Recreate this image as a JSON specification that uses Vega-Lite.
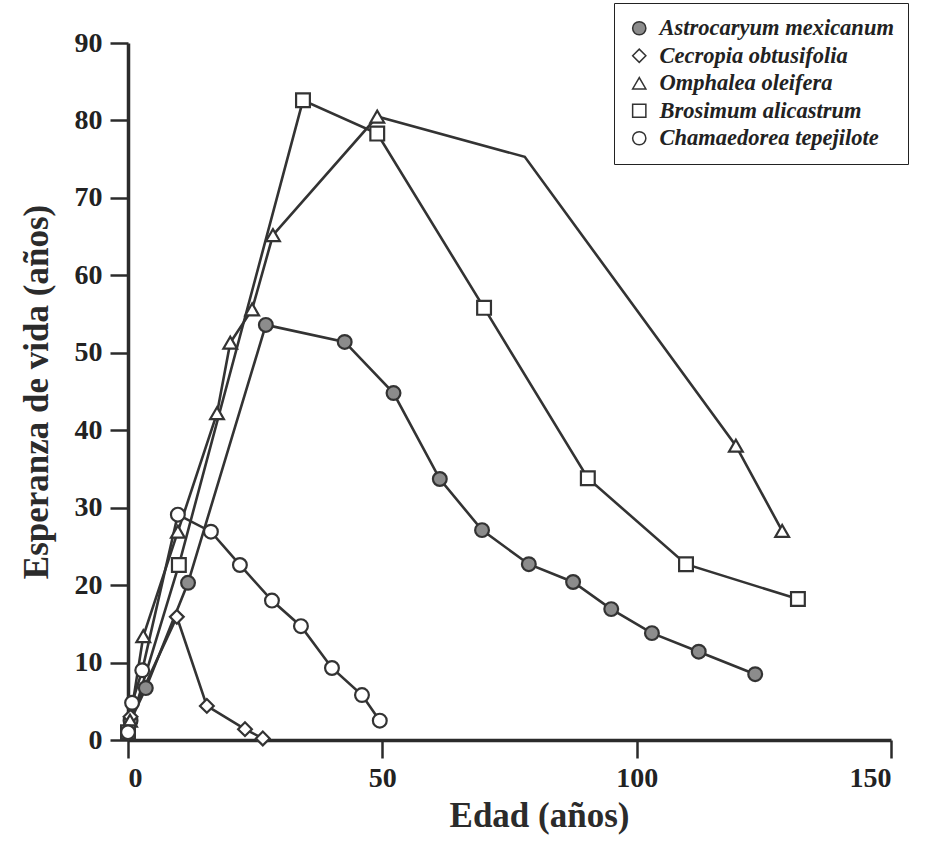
{
  "$schema": "https://vega.github.io/schema/vega-lite/v6.json",
  "autosize": "none",
  "width": 763,
  "height": 697,
  "padding": {"left": 128, "top": 43, "right": 45, "bottom": 102},
  "background": "white",
  "config": {
    "view": {"stroke": null},
    "axis": {
      "grid": false,
      "domainColor": "#2b2b2b",
      "domainWidth": 3.5,
      "tickColor": "#2b2b2b",
      "tickWidth": 2.5,
      "tickSize": 18,
      "labelFont": "Liberation Serif",
      "labelFontWeight": "bold",
      "labelFontSize": 28,
      "labelColor": "#222",
      "titleFont": "Liberation Serif",
      "titleFontWeight": "bold",
      "titleFontSize": 35,
      "titleColor": "#2b2b2b"
    },
    "legend": {
      "labelFont": "Liberation Serif",
      "labelFontStyle": "italic",
      "labelFontWeight": "bold",
      "labelFontSize": 22.5,
      "labelColor": "#222"
    }
  },
  "data": {
    "values": [
      {"especie": "Astrocaryum mexicanum", "edad": 0.5, "esperanza": 2.5, "marcador": "si"},
      {"especie": "Astrocaryum mexicanum", "edad": 3.5, "esperanza": 6.7, "marcador": "si"},
      {"especie": "Astrocaryum mexicanum", "edad": 11.8, "esperanza": 20.3, "marcador": "si"},
      {"especie": "Astrocaryum mexicanum", "edad": 27.1, "esperanza": 53.6, "marcador": "si"},
      {"especie": "Astrocaryum mexicanum", "edad": 42.6, "esperanza": 51.4, "marcador": "si"},
      {"especie": "Astrocaryum mexicanum", "edad": 52.2, "esperanza": 44.8, "marcador": "si"},
      {"especie": "Astrocaryum mexicanum", "edad": 61.3, "esperanza": 33.7, "marcador": "si"},
      {"especie": "Astrocaryum mexicanum", "edad": 69.6, "esperanza": 27.1, "marcador": "si"},
      {"especie": "Astrocaryum mexicanum", "edad": 78.8, "esperanza": 22.7, "marcador": "si"},
      {"especie": "Astrocaryum mexicanum", "edad": 87.5, "esperanza": 20.4, "marcador": "si"},
      {"especie": "Astrocaryum mexicanum", "edad": 95.0, "esperanza": 16.9, "marcador": "si"},
      {"especie": "Astrocaryum mexicanum", "edad": 103.0, "esperanza": 13.8, "marcador": "si"},
      {"especie": "Astrocaryum mexicanum", "edad": 112.2, "esperanza": 11.4, "marcador": "si"},
      {"especie": "Astrocaryum mexicanum", "edad": 123.3, "esperanza": 8.5, "marcador": "si"},
      {"especie": "Cecropia obtusifolia", "edad": 0.5, "esperanza": 3.0, "marcador": "si"},
      {"especie": "Cecropia obtusifolia", "edad": 9.6, "esperanza": 15.9, "marcador": "si"},
      {"especie": "Cecropia obtusifolia", "edad": 15.5, "esperanza": 4.4, "marcador": "si"},
      {"especie": "Cecropia obtusifolia", "edad": 23.0, "esperanza": 1.4, "marcador": "si"},
      {"especie": "Cecropia obtusifolia", "edad": 26.5, "esperanza": 0.2, "marcador": "si"},
      {"especie": "Omphalea oleifera", "edad": 0.4, "esperanza": 2.5, "marcador": "si"},
      {"especie": "Omphalea oleifera", "edad": 3.0, "esperanza": 13.4, "marcador": "si"},
      {"especie": "Omphalea oleifera", "edad": 9.8, "esperanza": 26.9, "marcador": "si"},
      {"especie": "Omphalea oleifera", "edad": 17.5, "esperanza": 42.2, "marcador": "si"},
      {"especie": "Omphalea oleifera", "edad": 20.1, "esperanza": 51.3, "marcador": "si"},
      {"especie": "Omphalea oleifera", "edad": 24.4, "esperanza": 55.6, "marcador": "si"},
      {"especie": "Omphalea oleifera", "edad": 28.5, "esperanza": 65.2, "marcador": "si"},
      {"especie": "Omphalea oleifera", "edad": 49.0, "esperanza": 80.5, "marcador": "si"},
      {"especie": "Omphalea oleifera", "edad": 78.0, "esperanza": 75.3, "marcador": "no"},
      {"especie": "Omphalea oleifera", "edad": 119.5, "esperanza": 38.0, "marcador": "si"},
      {"especie": "Omphalea oleifera", "edad": 128.6, "esperanza": 27.0, "marcador": "si"},
      {"especie": "Brosimum alicastrum", "edad": 0.0, "esperanza": 1.0, "marcador": "si"},
      {"especie": "Brosimum alicastrum", "edad": 10.0, "esperanza": 22.6, "marcador": "si"},
      {"especie": "Brosimum alicastrum", "edad": 34.4, "esperanza": 82.6, "marcador": "si"},
      {"especie": "Brosimum alicastrum", "edad": 49.0, "esperanza": 78.3, "marcador": "si"},
      {"especie": "Brosimum alicastrum", "edad": 70.0, "esperanza": 55.8, "marcador": "si"},
      {"especie": "Brosimum alicastrum", "edad": 90.4, "esperanza": 33.8, "marcador": "si"},
      {"especie": "Brosimum alicastrum", "edad": 109.7, "esperanza": 22.7, "marcador": "si"},
      {"especie": "Brosimum alicastrum", "edad": 131.7, "esperanza": 18.2, "marcador": "si"},
      {"especie": "Chamaedorea tepejilote", "edad": 0.0, "esperanza": 1.0, "marcador": "si"},
      {"especie": "Chamaedorea tepejilote", "edad": 0.8, "esperanza": 4.8, "marcador": "si"},
      {"especie": "Chamaedorea tepejilote", "edad": 2.8, "esperanza": 9.0, "marcador": "si"},
      {"especie": "Chamaedorea tepejilote", "edad": 9.8, "esperanza": 29.1, "marcador": "si"},
      {"especie": "Chamaedorea tepejilote", "edad": 16.3, "esperanza": 26.9, "marcador": "si"},
      {"especie": "Chamaedorea tepejilote", "edad": 22.0, "esperanza": 22.6, "marcador": "si"},
      {"especie": "Chamaedorea tepejilote", "edad": 28.3, "esperanza": 18.0, "marcador": "si"},
      {"especie": "Chamaedorea tepejilote", "edad": 34.0, "esperanza": 14.7, "marcador": "si"},
      {"especie": "Chamaedorea tepejilote", "edad": 40.1, "esperanza": 9.3, "marcador": "si"},
      {"especie": "Chamaedorea tepejilote", "edad": 46.0, "esperanza": 5.8, "marcador": "si"},
      {"especie": "Chamaedorea tepejilote", "edad": 49.5, "esperanza": 2.5, "marcador": "si"}
    ]
  },
  "encoding": {
    "x": {
      "field": "edad", "type": "quantitative",
      "scale": {"domain": [0, 150], "nice": false},
      "axis": {"values": [0, 50, 100, 150], "title": "Edad (años)", "labelPadding": 6, "titlePadding": 6, "titleX": 411}
    },
    "y": {
      "field": "esperanza", "type": "quantitative",
      "scale": {"domain": [0, 90], "nice": false},
      "axis": {"values": [0, 10, 20, 30, 40, 50, 60, 70, 80, 90], "title": "Esperanza de vida (años)", "labelPadding": 8, "titlePadding": 20}
    }
  },
  "layer": [
    {
      "mark": {"type": "line", "color": "#333", "strokeWidth": 2.6},
      "encoding": {"detail": {"field": "especie"}}
    },
    {
      "transform": [{"filter": "datum.marcador == 'si'"}],
      "mark": {"type": "point", "filled": true, "opacity": 1, "stroke": "#333", "strokeWidth": 2.2, "size": 190},
      "encoding": {
        "shape": {
          "field": "especie", "type": "nominal",
          "scale": {
            "domain": ["Astrocaryum mexicanum", "Cecropia obtusifolia", "Omphalea oleifera", "Brosimum alicastrum", "Chamaedorea tepejilote"],
            "range": ["circle", "diamond", "triangle-up", "square", "circle"]
          },
          "legend": {
            "title": null, "orient": "none", "legendX": 486, "legendY": -40,
            "padding": 14, "rowPadding": 4.5, "symbolSize": 175,
            "labelOffset": 9, "labelLimit": 400,
            "strokeColor": "#222", "fillColor": "white",
            "encode": {"symbols": {"update": {"stroke": {"value": "#222"}, "strokeWidth": {"value": 2.2}}}}
          }
        },
        "fill": {
          "field": "especie", "type": "nominal",
          "scale": {
            "domain": ["Astrocaryum mexicanum", "Cecropia obtusifolia", "Omphalea oleifera", "Brosimum alicastrum", "Chamaedorea tepejilote"],
            "range": ["#8c8c8c", "white", "white", "white", "white"]
          },
          "legend": {
            "title": null, "orient": "none", "legendX": 486, "legendY": -40,
            "padding": 14, "rowPadding": 4.5, "symbolSize": 175,
            "labelOffset": 9, "labelLimit": 400,
            "strokeColor": "#222", "fillColor": "white",
            "encode": {"symbols": {"update": {"stroke": {"value": "#222"}, "strokeWidth": {"value": 2.2}}}}
          }
        }
      }
    }
  ]
}
